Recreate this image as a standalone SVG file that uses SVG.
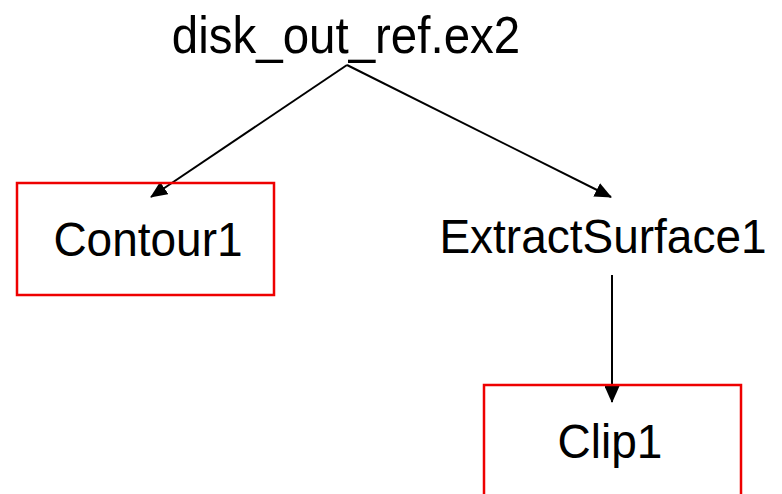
<svg xmlns="http://www.w3.org/2000/svg" width="782" height="494" viewBox="0 0 782 494">
<style>
text{font-family:"Liberation Sans",Arial,sans-serif;font-size:46px;fill:#000;text-anchor:middle}
.box{fill:none;stroke:#ee0000;stroke-width:2.5}
.edge{stroke:#000;stroke-width:2;fill:none;marker-end:url(#ah)}
</style>
<defs>
<marker id="ah" markerWidth="17" markerHeight="15" refX="16" refY="7.5" orient="auto" markerUnits="userSpaceOnUse">
<path d="M0,0 L17,7.5 L0,15 Z" fill="#000"/>
</marker>
</defs>
<rect width="782" height="494" fill="#fff"/>
<g id="connectors">
<line class="edge" x1="347" y1="65" x2="151" y2="197"/>
<line class="edge" x1="347" y1="65" x2="611" y2="197"/>
<line class="edge" x1="612" y1="275" x2="612" y2="402"/>
</g>
<g id="node-disk">
<text transform="translate(346,53) scale(1,1.1)" style="font-size:47.5px">disk_out_ref.ex2</text>
</g>
<g id="node-contour1">
<rect class="box" x="17" y="183" width="257" height="112"/>
<text transform="translate(148,256) scale(1,1.06)">Contour1</text>
</g>
<g id="node-extractsurface1">
<text transform="translate(603,253) scale(1,1.04)">ExtractSurface1</text>
</g>
<g id="node-clip1">
<rect class="box" x="484" y="385" width="257" height="115"/>
<text transform="translate(610,458) scale(1,1.04)">Clip1</text>
</g>
</svg>
